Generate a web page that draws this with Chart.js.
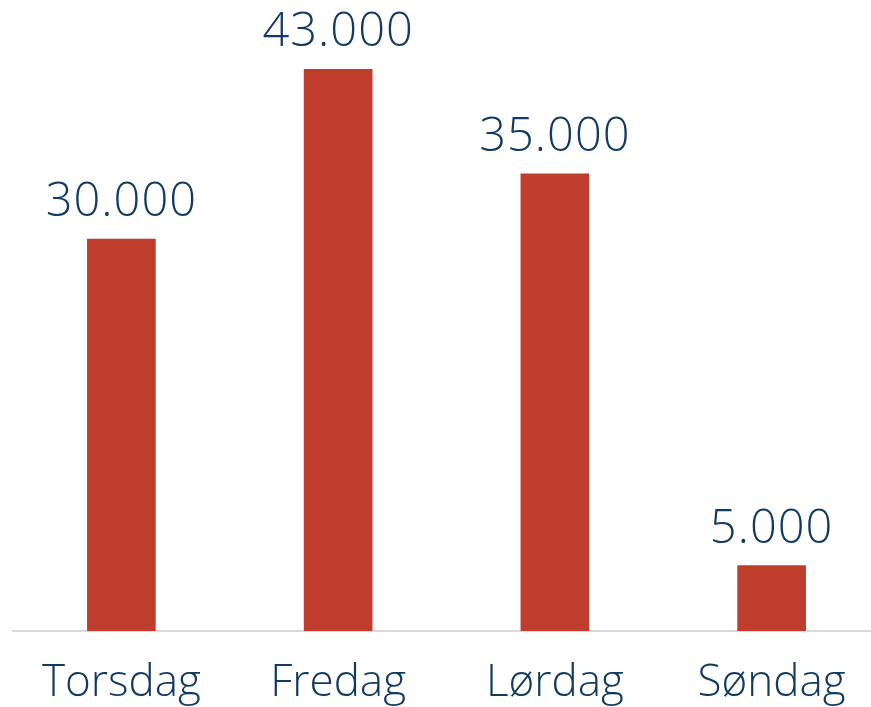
<!DOCTYPE html>
<html>
<head>
<meta charset="utf-8">
<script src="https://cdn.jsdelivr.net/npm/chart.js@4.4.1/dist/chart.umd.min.js"></script>
<style>
  html, body { margin: 0; padding: 0; background: #fff; overflow: hidden; }
  #wrap { width: 880px; height: 707px; }
</style>
</head>
<body>
<div id="wrap"><canvas id="chart"></canvas></div>
<script>
const days = ["Torsdag", "Fredag", "Lørdag", "Søndag"];
const visitors = [30000, 43000, 35000, 5000];

const barColor = "#BF3D2D";
const textColor = "#123B61";
const fontFamily = "'Open Sans', sans-serif";

// draw the numbers above each bar
const valueLabels = {
  id: "valueLabels",
  afterDatasetsDraw(chart) {
    const ctx = chart.ctx;
    const meta = chart.getDatasetMeta(0);
    ctx.save();
    ctx.fillStyle = textColor;
    ctx.font = "300 47px " + fontFamily;
    ctx.letterSpacing = "1px";
    ctx.textAlign = "center";
    ctx.textBaseline = "alphabetic";
    meta.data.forEach((bar, i) => {
      const txt = visitors[i].toLocaleString("de-DE");
      ctx.fillText(txt, bar.x, bar.y - 23);
    });
    ctx.restore();
  }
};

const ctx = document.getElementById("chart").getContext("2d");
new Chart(ctx, {
  type: "bar",
  data: {
    labels: days,
    datasets: [{
      data: visitors,
      backgroundColor: barColor,
      barThickness: 68
    }]
  },
  options: {
    responsive: true,
    maintainAspectRatio: false,
    animation: false,
    layout: { padding: { top: 4, left: 13, right: 0, bottom: 0 } },
    plugins: {
      legend: { display: false },
      tooltip: { enabled: false }
    },
    scales: {
      x: {
        grid: { display: false },
        border: { display: true, color: "#d9d9d9", width: 2 },
        ticks: {
          color: textColor,
          font: { family: fontFamily, size: 44, weight: 300 },
          padding: 18
        },
        afterFit(scale) { scale.height = 76; }
      },
      y: {
        display: false,
        min: 0,
        max: 48000
      }
    }
  },
  plugins: [valueLabels]
});
</script>
</body>
</html>
